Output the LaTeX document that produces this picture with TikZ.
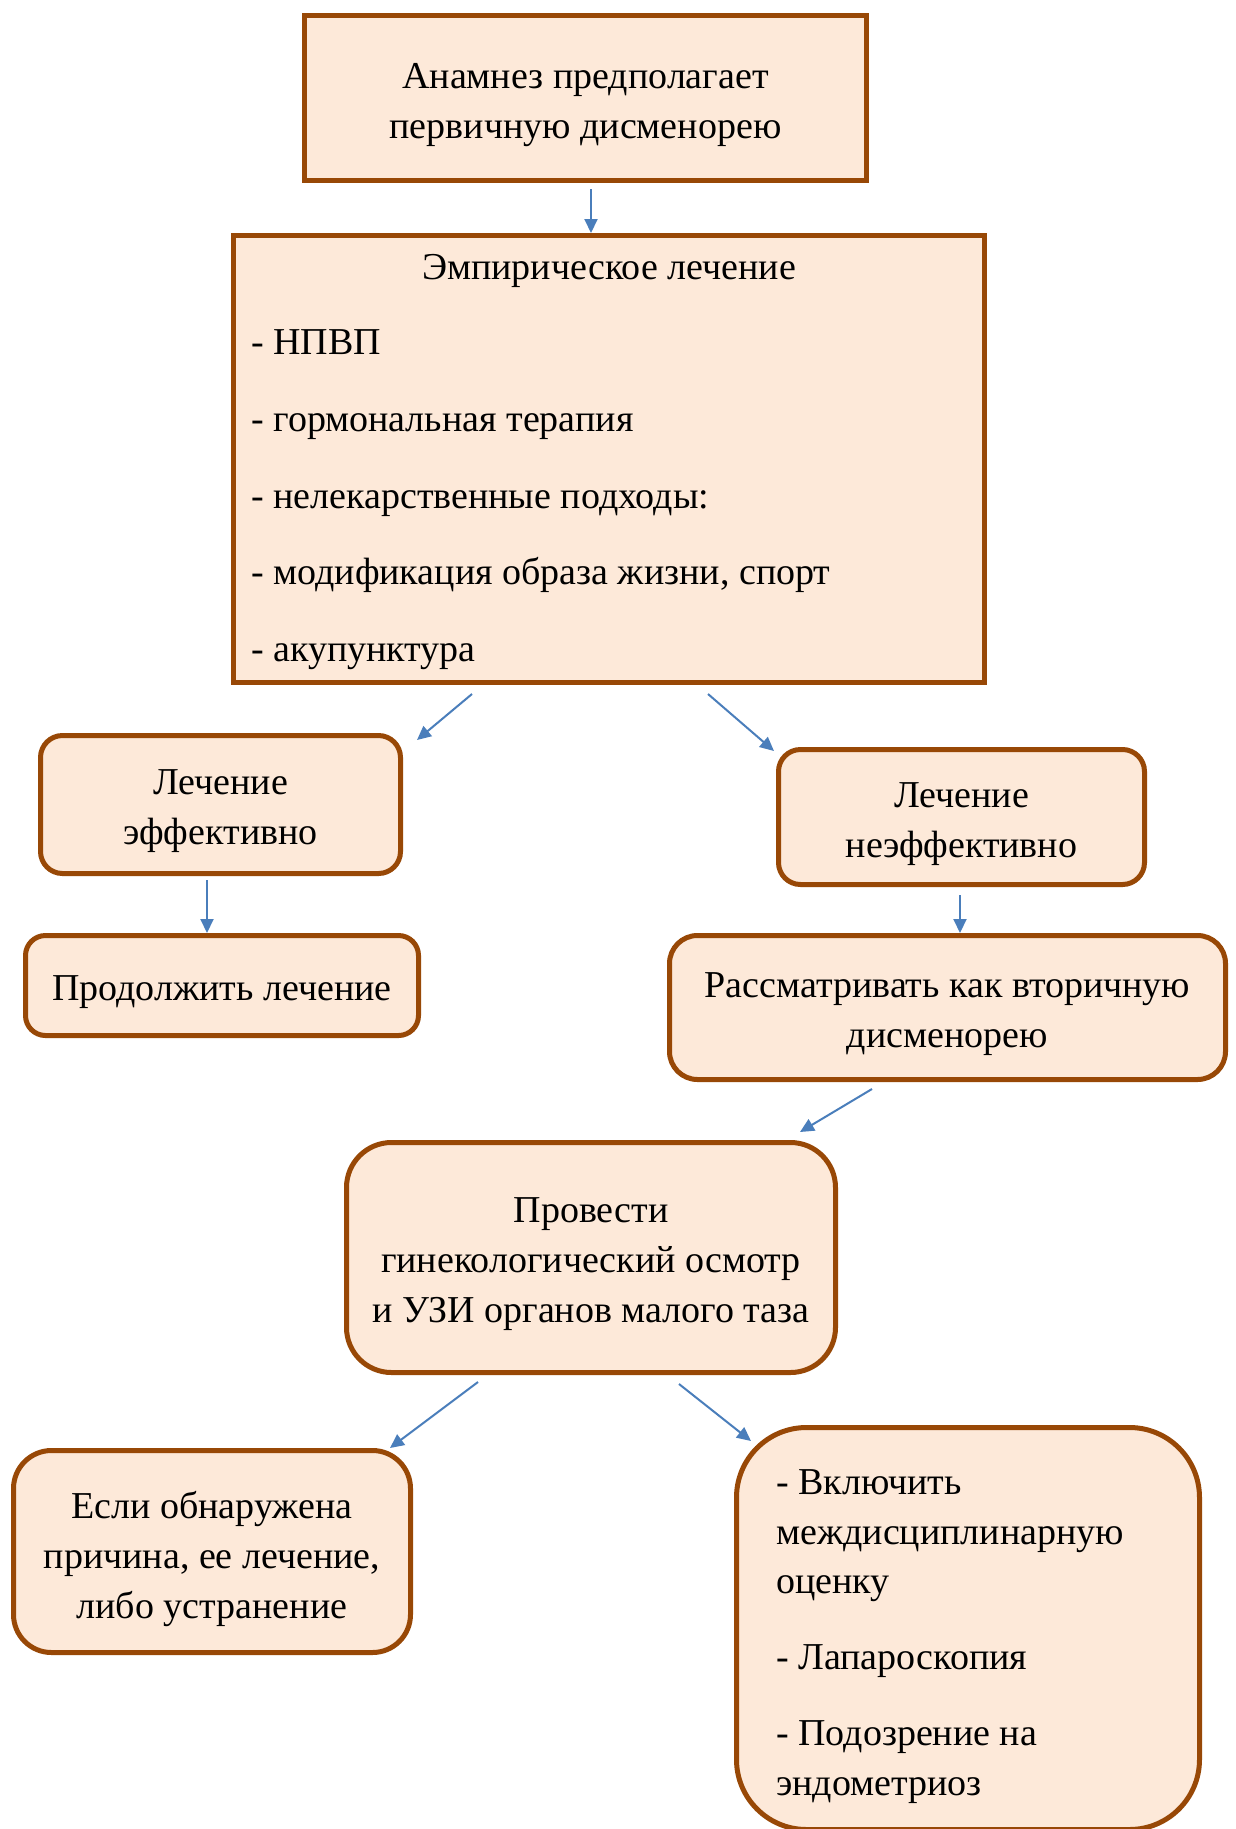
\documentclass[tikz,border=0pt]{standalone}
\usepackage{fontspec}
\setmainfont{Liberation Serif}
\usetikzlibrary{arrows.meta}
\definecolor{boxfill}{HTML}{FDE9D9}
\definecolor{boxline}{HTML}{984806}
\definecolor{arrowblue}{HTML}{4A7EBB}
\begin{document}
\begin{tikzpicture}[x=1pt,y=-1pt,
  box/.style={draw=boxline,fill=boxfill,line width=5pt,inner sep=0pt},
  rnd/.style={box,rounded corners=#1},
  rnd/.default=20pt,
  tx/.style={inner sep=0pt,align=center,font=\fontsize{38}{50}\selectfont},
  arr/.style={draw=arrowblue,line width=2pt,-{Triangle[length=14pt,width=13pt]}},
  txt/.style={inner sep=0pt,anchor=base west,font=\fontsize{38}{50}\selectfont}]
\useasboundingbox (0,0) rectangle (1235,1829);
\fill[white] (0,0) rectangle (1235,1829);

\node[box,minimum width=562pt,minimum height=165pt] (b1) at (585.5,98) {};
\node[tx] (b1x) at ([yshift=-7pt]b1.center) {Анамнез предполагает\\первичную дисменорею};

\node[box,minimum width=751pt,minimum height=447pt] (b2) at (609,459) {};
\node[txt,anchor=base] (b2t) at (609,279) {Эмпирическое лечение};
\node[txt] (b2a) at (251,354) {- НПВП};
\node[txt] (b2b) at (251,431) {- гормональная терапия};
\node[txt] (b2c) at (251,508) {- нелекарственные подходы:};
\node[txt] (b2d) at (251,584) {- модификация образа жизни, спорт};
\node[txt] (b2e) at (251,661) {- акупунктура};

\node[rnd=22pt,minimum width=360pt,minimum height=138pt] (b3) at (220.5,804.5) {};
\node[tx] (b3x) at ([yshift=-7pt]b3.center) {Лечение\\эффективно};
\node[rnd=22pt,minimum width=366pt,minimum height=135pt] (b4) at (961.5,817) {};
\node[tx] (b4x) at ([yshift=-7pt]b4.center) {Лечение\\неэффективно};
\node[rnd=20pt,minimum width=393pt,minimum height=100pt] (b5) at (222,985.5) {};
\node[tx] (b5x) at ([yshift=-7pt]b5.center) {Продолжить лечение};
\node[rnd=28pt,minimum width=556pt,minimum height=144pt] (b6) at (947.5,1007.5) {};
\node[tx] (b6x) at ([yshift=-7pt]b6.center) {Рассматривать как вторичную\\дисменорею};
\node[rnd=45pt,minimum width=489pt,minimum height=230pt] (b7) at (591,1257.5) {};
\node[tx] (b7x) at ([yshift=-7pt]b7.center) {Провести\\гинекологический осмотр\\и УЗИ органов малого таза};
\node[rnd=38pt,minimum width=397pt,minimum height=202pt] (b8) at (212,1551.5) {};
\node[tx] (b8x) at ([yshift=-7pt]b8.center) {Если обнаружена\\причина, ее лечение,\\либо устранение};
\node[rnd=70pt,minimum width=463pt,minimum height=402pt] (b9) at (968,1628.5) {};
\node[txt] (b9a) at (776,1494) {- Включить};
\node[txt] (b9b) at (776,1544) {междисциплинарную};
\node[txt] (b9c) at (776,1593) {оценку};
\node[txt] (b9d) at (776,1669) {- Лапароскопия};
\node[txt] (b9e) at (776,1745) {- Подозрение на};
\node[txt] (b9f) at (776,1795) {эндометриоз};

\draw[arr] ([xshift=5.5pt,yshift=-6pt]b1.south) -- ([xshift=-18pt]b2.north);
\draw[arr] ([xshift=-137pt,yshift=-9pt]b2.south) -- ([xshift=14pt,yshift=-7pt]b3.north east);
\draw[arr] ([xshift=99pt,yshift=-9pt]b2.south) -- ([xshift=-2pt,yshift=-4pt]b4.north west);
\draw[arr] ([xshift=-13.5pt,yshift=-4pt]b3.south) -- ([xshift=-15pt]b5.north);
\draw[arr] ([xshift=-1.5pt,yshift=-8pt]b4.south) -- ([xshift=12.5pt]b6.north);
\draw[arr] ([xshift=-75.5pt,yshift=-7pt]b6.south) -- ([xshift=-38pt,yshift=8pt]b7.north east);
\draw[arr] ([xshift=-113pt,yshift=-7pt]b7.south) -- ([xshift=-23pt]b8.north east);
\draw[arr] ([xshift=88pt,yshift=-9pt]b7.south) -- ([xshift=17pt,yshift=-16pt]b9.north west);
\end{tikzpicture}
\end{document}
